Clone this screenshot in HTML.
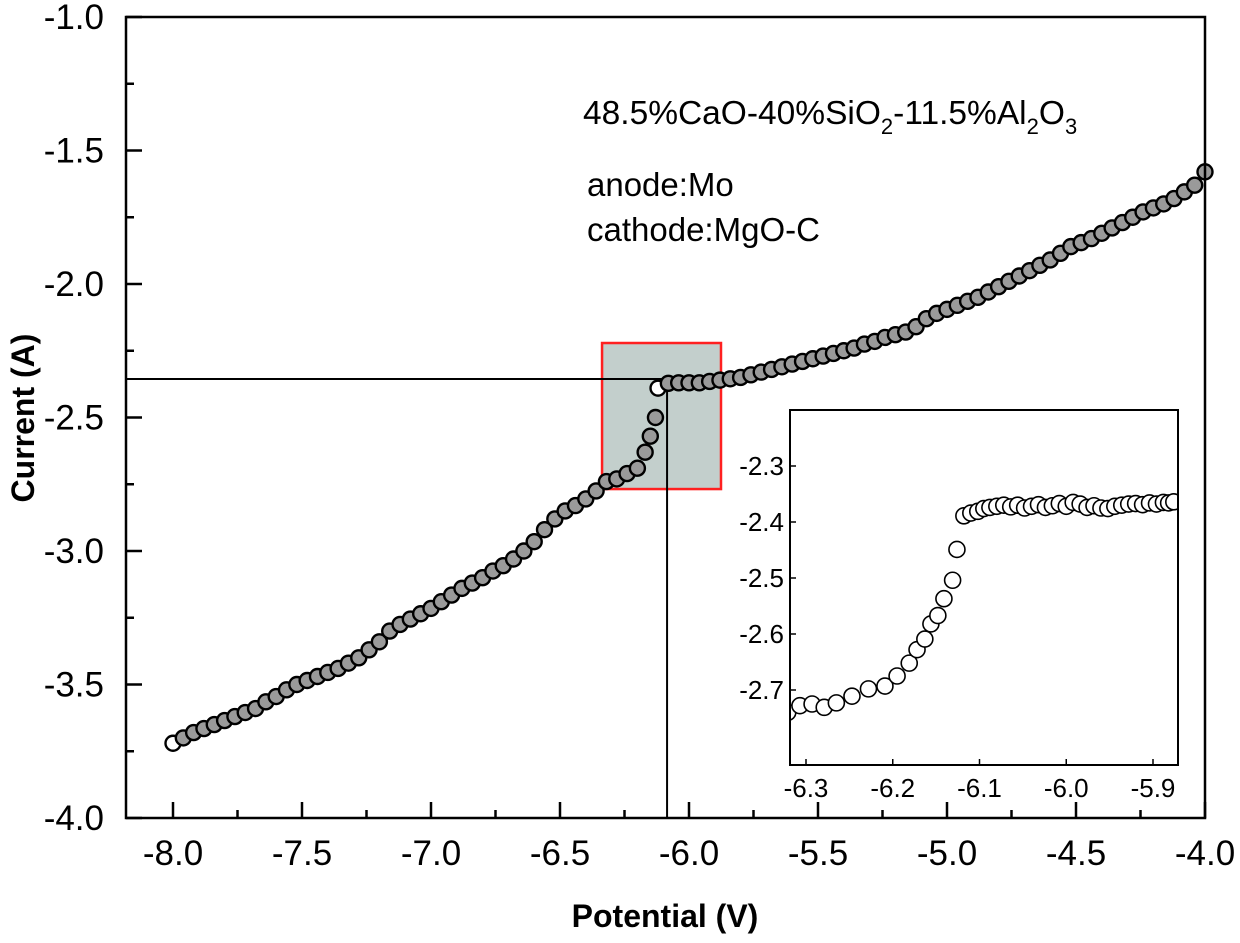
<!DOCTYPE html>
<html><head><meta charset="utf-8"><style>
html,body{margin:0;padding:0;background:#fff;}
svg{display:block;font-family:"Liberation Sans",Arial,sans-serif;}
</style></head><body>
<svg id="chart" width="1240" height="943" viewBox="0 0 1240 943" xmlns="http://www.w3.org/2000/svg">
<g id="main-layer"></g>
<g id="inset-layer"></g>
<text x="583" y="124" font-size="33.5">48.5%CaO-40%SiO<tspan font-size="22" dy="10">2</tspan><tspan dy="-10">-11.5%Al</tspan><tspan font-size="22" dy="10">2</tspan><tspan dy="-10">O</tspan><tspan font-size="22" dy="10">3</tspan></text>
<text x="587" y="196" font-size="33">anode:Mo</text>
<text x="587" y="241" font-size="33">cathode:MgO-C</text>
<text x="665" y="927" font-size="32" font-weight="bold" text-anchor="middle">Potential (V)</text>
<text transform="translate(34,418) rotate(-90)" font-size="32" font-weight="bold" text-anchor="middle">Current (A)</text>
</svg>
<script>
const mainV = [-8.00,-7.96,-7.92,-7.88,-7.84,-7.80,-7.76,-7.72,-7.68,-7.64,-7.60,-7.56,-7.52,-7.48,-7.44,-7.40,-7.36,-7.32,-7.28,-7.24,-7.20,-7.16,-7.12,-7.08,-7.04,-7.00,-6.96,-6.92,-6.88,-6.84,-6.80,-6.76,-6.72,-6.68,-6.64,-6.60,-6.56,-6.52,-6.48,-6.44,-6.40,-6.36,-6.32,-6.28,-6.24,-6.20,-6.17,-6.15,-6.13,-6.12,-6.08,-6.04,-6.00,-5.96,-5.92,-5.88,-5.84,-5.80,-5.76,-5.72,-5.68,-5.64,-5.60,-5.56,-5.52,-5.48,-5.44,-5.40,-5.36,-5.32,-5.28,-5.24,-5.20,-5.16,-5.12,-5.08,-5.04,-5.00,-4.96,-4.92,-4.88,-4.84,-4.80,-4.76,-4.72,-4.68,-4.64,-4.60,-4.56,-4.52,-4.48,-4.44,-4.40,-4.36,-4.32,-4.28,-4.24,-4.20,-4.16,-4.12,-4.08,-4.04,-4.00];
const mainI = [-3.72,-3.70,-3.68,-3.665,-3.65,-3.635,-3.62,-3.605,-3.59,-3.565,-3.545,-3.52,-3.50,-3.485,-3.47,-3.455,-3.44,-3.42,-3.40,-3.37,-3.34,-3.30,-3.275,-3.255,-3.235,-3.215,-3.19,-3.165,-3.14,-3.12,-3.10,-3.075,-3.055,-3.03,-3.00,-2.965,-2.92,-2.88,-2.85,-2.83,-2.805,-2.775,-2.74,-2.73,-2.71,-2.69,-2.63,-2.57,-2.50,-2.39,-2.372,-2.37,-2.37,-2.37,-2.365,-2.36,-2.355,-2.35,-2.34,-2.33,-2.32,-2.31,-2.30,-2.29,-2.28,-2.27,-2.26,-2.25,-2.24,-2.225,-2.215,-2.20,-2.19,-2.18,-2.16,-2.13,-2.11,-2.095,-2.08,-2.065,-2.05,-2.03,-2.01,-1.99,-1.97,-1.95,-1.93,-1.91,-1.885,-1.86,-1.845,-1.83,-1.81,-1.79,-1.77,-1.75,-1.73,-1.715,-1.70,-1.68,-1.655,-1.63,-1.58];
const mainXTicks = [-8.0,-7.5,-7.0,-6.5,-6.0,-5.5,-5.0,-4.5,-4.0];
const mainYTicks = [-1.0,-1.5,-2.0,-2.5,-3.0,-3.5,-4.0];
const insetV = [-6.338,-6.321,-6.307,-6.293,-6.279,-6.265,-6.247,-6.228,-6.209,-6.195,-6.181,-6.172,-6.163,-6.156,-6.148,-6.141,-6.131,-6.126,-6.118,-6.110,-6.102,-6.095,-6.088,-6.080,-6.072,-6.064,-6.056,-6.048,-6.040,-6.032,-6.024,-6.016,-6.008,-6.000,-5.992,-5.984,-5.976,-5.968,-5.960,-5.952,-5.944,-5.936,-5.928,-5.920,-5.912,-5.904,-5.896,-5.888,-5.882,-5.876];
const insetI = [-2.759,-2.740,-2.728,-2.725,-2.731,-2.723,-2.711,-2.698,-2.693,-2.675,-2.652,-2.628,-2.609,-2.582,-2.567,-2.537,-2.504,-2.449,-2.389,-2.384,-2.381,-2.376,-2.374,-2.372,-2.370,-2.373,-2.370,-2.375,-2.372,-2.369,-2.374,-2.371,-2.367,-2.372,-2.365,-2.368,-2.374,-2.371,-2.375,-2.376,-2.372,-2.370,-2.368,-2.367,-2.369,-2.366,-2.368,-2.365,-2.366,-2.364];
const insetXTicks = [-6.3,-6.2,-6.1,-6.0,-5.9];
const insetYTicks = [-2.3,-2.4,-2.5,-2.6,-2.7];
const markerV = -6.085, markerI = -2.356;

const NS = "http://www.w3.org/2000/svg";
function mk(parent, tag, attrs) {
  const e = document.createElementNS(NS, tag);
  for (const k in attrs) e.setAttribute(k, attrs[k]);
  parent.appendChild(e);
  return e;
}
const mx = v => 173 + (v + 8) * 258;
const my = a => 17 + (-1 - a) * 267;
const M = { l: 126, r: 1205, t: 17, b: 818 };
const g = document.getElementById('main-layer');

const zoomBox = mk(g, 'rect', { x: mx(-6.337), y: my(-2.221), width: mx(-5.876) - mx(-6.337), height: my(-2.768) - my(-2.221), fill: '#c3cfcc', stroke: '#ff2020', 'stroke-width': 2.5 });



const hl = mk(g, 'line', { x1: M.l, x2: mx(markerV), y1: my(markerI), y2: my(markerI), stroke: '#000', 'stroke-width': 2 });


const vl = mk(g, 'line', { x1: mx(markerV), x2: mx(markerV), y1: my(markerI), y2: M.b, stroke: '#000', 'stroke-width': 2 });



for (let i = 0; i < mainV.length; i++) {
  const c = mk(g, 'circle', { cx: mx(mainV[i]), cy: my(mainI[i]), r: 7.5, fill: (i === 0 || (mainV[i] > -6.13 && mainV[i] < -6.1)) ? '#fff' : '#9a9a9a', stroke: '#000', 'stroke-width': 2.4 });
  
  
}

const frame = mk(g, 'rect', { x: M.l, y: M.t, width: M.r - M.l, height: M.b - M.t, fill: 'none', stroke: '#000', 'stroke-width': 2.5 });



mainXTicks.forEach(v => {
  const x = mx(v);
  const t = mk(g, 'line', { x1: x, x2: x, y1: M.b, y2: M.b - 16, stroke: '#000', 'stroke-width': 2.5 });
  
  
  const m = mk(g, 'line', { x1: x + 64.5, x2: x + 64.5, y1: M.b, y2: M.b - 8, stroke: '#000', 'stroke-width': 2.5 });
  
  
  const lb = mk(g, 'text', { x: x, y: 865, 'font-size': 35, 'text-anchor': 'middle' });
  lb.textContent = v.toFixed(1);
  
  
});
mainYTicks.forEach(a => {
  const y = my(a);
  const t = mk(g, 'line', { x1: M.l, x2: M.l + 16, y1: y, y2: y, stroke: '#000', 'stroke-width': 2.5 });
  
  
  if (a > -4) {
    const m = mk(g, 'line', { x1: M.l, x2: M.l + 8, y1: y + 66.75, y2: y + 66.75, stroke: '#000', 'stroke-width': 2.5 });
    
    
  }
  const lb = mk(g, 'text', { x: 104, y: y + 12, 'font-size': 35, 'text-anchor': 'end' });
  lb.textContent = a.toFixed(1);
  
  
});

// inset
const I = { l: 790, r: 1178, t: 410, b: 765 };
const ix = v => 806 + (v + 6.3) * 867.5;
const iy = a => 466 + (-2.3 - a) * 560;
const ig = document.getElementById('inset-layer');
const ibg = mk(ig, 'rect', { x: I.l, y: I.t, width: I.r - I.l, height: I.b - I.t, fill: '#fff' });


const clip = mk(ig, 'clipPath', { id: 'insetClip' });
mk(clip, 'rect', { x: I.l, y: I.t, width: I.r - I.l, height: I.b - I.t });
const pts = mk(ig, 'g', { 'clip-path': 'url(#insetClip)' });
for (let i = 0; i < insetV.length; i++) {
  const c = mk(pts, 'circle', { cx: ix(insetV[i]), cy: iy(insetI[i]), r: 8, fill: '#fff', stroke: '#000', 'stroke-width': 1.6 });
  
  
}
const iframe = mk(ig, 'rect', { x: I.l, y: I.t, width: I.r - I.l, height: I.b - I.t, fill: 'none', stroke: '#000', 'stroke-width': 2 });


insetXTicks.forEach(v => {
  const x = ix(v);
  const t = mk(ig, 'line', { x1: x, x2: x, y1: I.b, y2: I.b - 6, stroke: '#000', 'stroke-width': 1.5 });
  
  
  const lb = mk(ig, 'text', { x: x, y: 797, 'font-size': 26, 'text-anchor': 'middle' });
  lb.textContent = v.toFixed(1);
  
  
});
insetYTicks.forEach(a => {
  const y = iy(a);
  const t = mk(ig, 'line', { x1: I.l, x2: I.l + 6, y1: y, y2: y, stroke: '#000', 'stroke-width': 1.5 });
  
  
  const lb = mk(ig, 'text', { x: 784, y: y + 9, 'font-size': 26, 'text-anchor': 'end' });
  lb.textContent = a.toFixed(1);
  
  
});
</script>
</body></html>
